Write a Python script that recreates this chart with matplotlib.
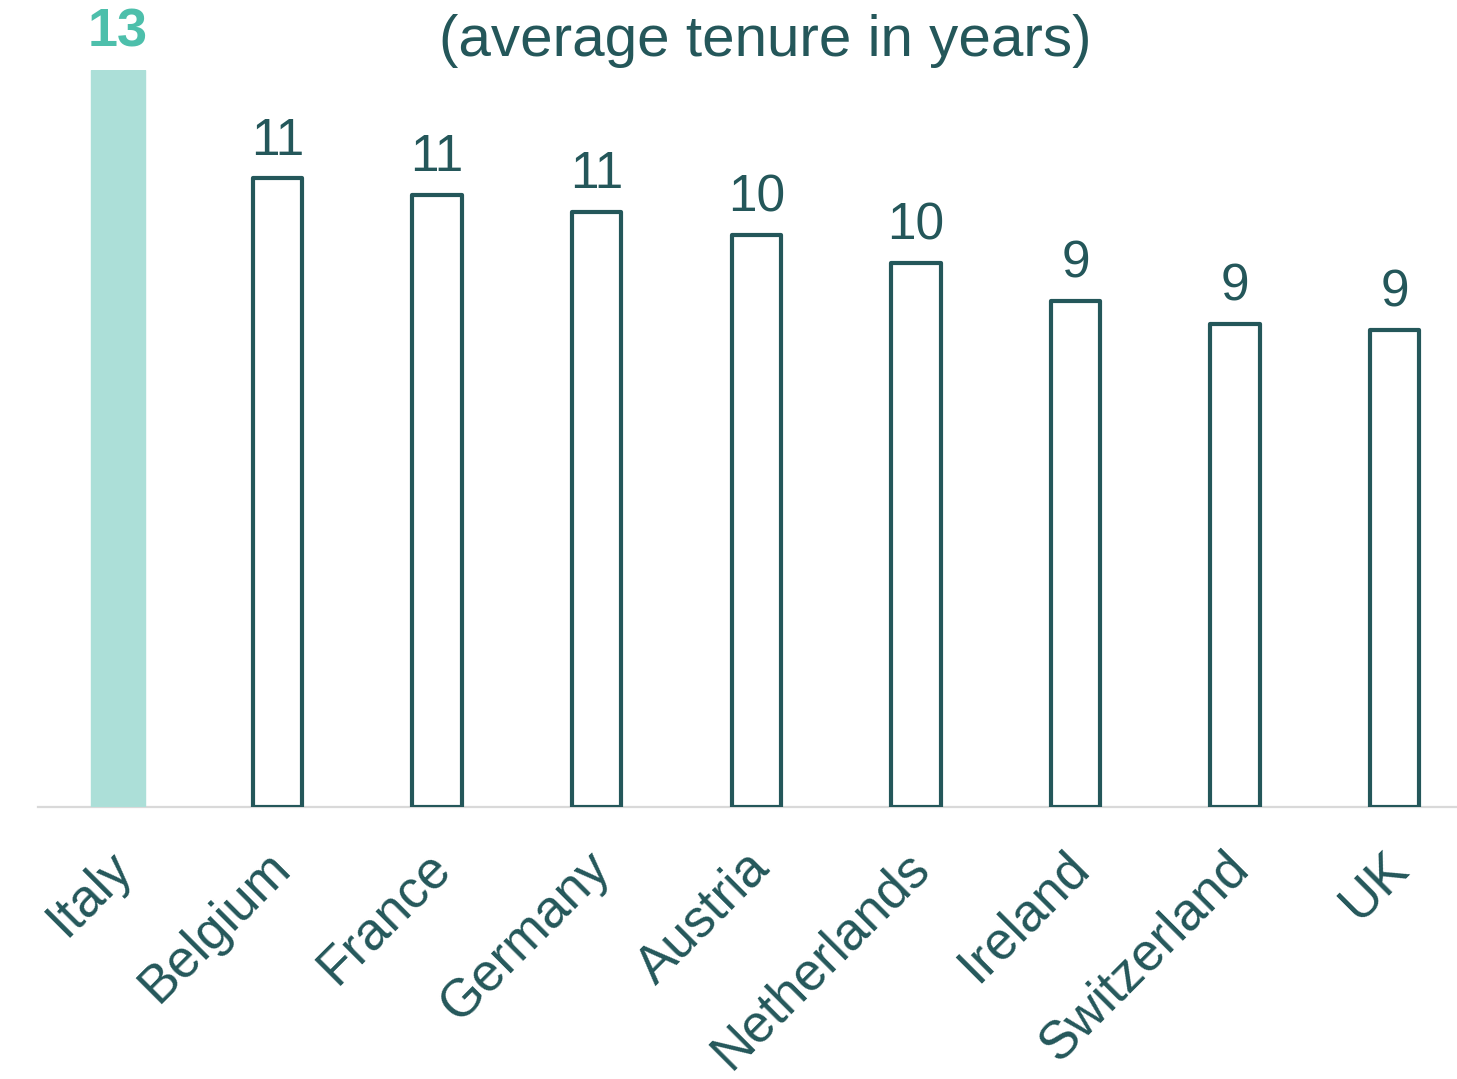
import matplotlib
matplotlib.use("Agg")
import matplotlib.pyplot as plt
import matplotlib.transforms as mtransforms

countries = ["Italy", "Belgium", "France", "Germany", "Austria",
             "Netherlands", "Ireland", "Switzerland", "UK"]
tenure = [13.3, 11.35, 11.05, 10.74, 10.33, 9.82, 9.13, 8.72, 8.61]
labels = ["13", "11", "11", "11", "10", "10", "9", "9", "9"]

DARK = "#24575A"
HL_FILL = "#ACDFD8"
HL_TEXT = "#4DBFAB"

plt.rcParams['font.family'] = ['Liberation Sans', 'DejaVu Sans']

W, H = 1457, 1079
fig = plt.figure(figsize=(W / 100, H / 100), dpi=100)
left, right, bottom, top = 38, 1457, 807, 70
ax = fig.add_axes([left / W, 1 - bottom / H, (right - left) / W, (bottom - top) / H])

x = list(range(len(countries)))
for i, (c, v) in enumerate(zip(countries, tenure)):
    if i == 0:
        ax.bar(i, v, width=0.34, color=HL_FILL, edgecolor=HL_FILL, linewidth=1, zorder=3)
    else:
        ax.bar(i, v, width=0.31, facecolor="white", edgecolor=DARK, linewidth=3,
               joinstyle="round", zorder=3)

for i, (v, lab) in enumerate(zip(tenure, labels)):
    if i == 0:
        ax.annotate(lab, (i, v), xytext=(0, 9), textcoords="offset points",
                    ha="center", va="bottom", fontsize=39, fontweight="bold", color=HL_TEXT)
    else:
        ax.annotate(lab, (i, v), xytext=(0, 9), textcoords="offset points",
                    ha="center", va="bottom", fontsize=37, color=DARK)

ax.set_xlim(-0.5, 8.39)
ax.set_ylim(0, 13.3)
for s in ["top", "right", "left"]:
    ax.spines[s].set_visible(False)
ax.spines["bottom"].set_color("#D9D9D9")
ax.spines["bottom"].set_linewidth(1.6)
ax.set_yticks([])
ax.set_xticks(x)
ax.set_xticklabels(countries, rotation=45, ha="right", rotation_mode="anchor",
                   fontsize=38, color=DARK)
ax.tick_params(axis="x", length=0, pad=24)
offset = mtransforms.ScaledTranslation(-12 / 100, -2 / 100, fig.dpi_scale_trans)
for lbl in ax.get_xticklabels():
    lbl.set_transform(lbl.get_transform() + offset)

fig.text(765 / W, 1 - 41 / H, "(average tenure in years)", ha="center", va="center",
         fontsize=42, color=DARK)

fig.savefig("out.png", dpi=100)
